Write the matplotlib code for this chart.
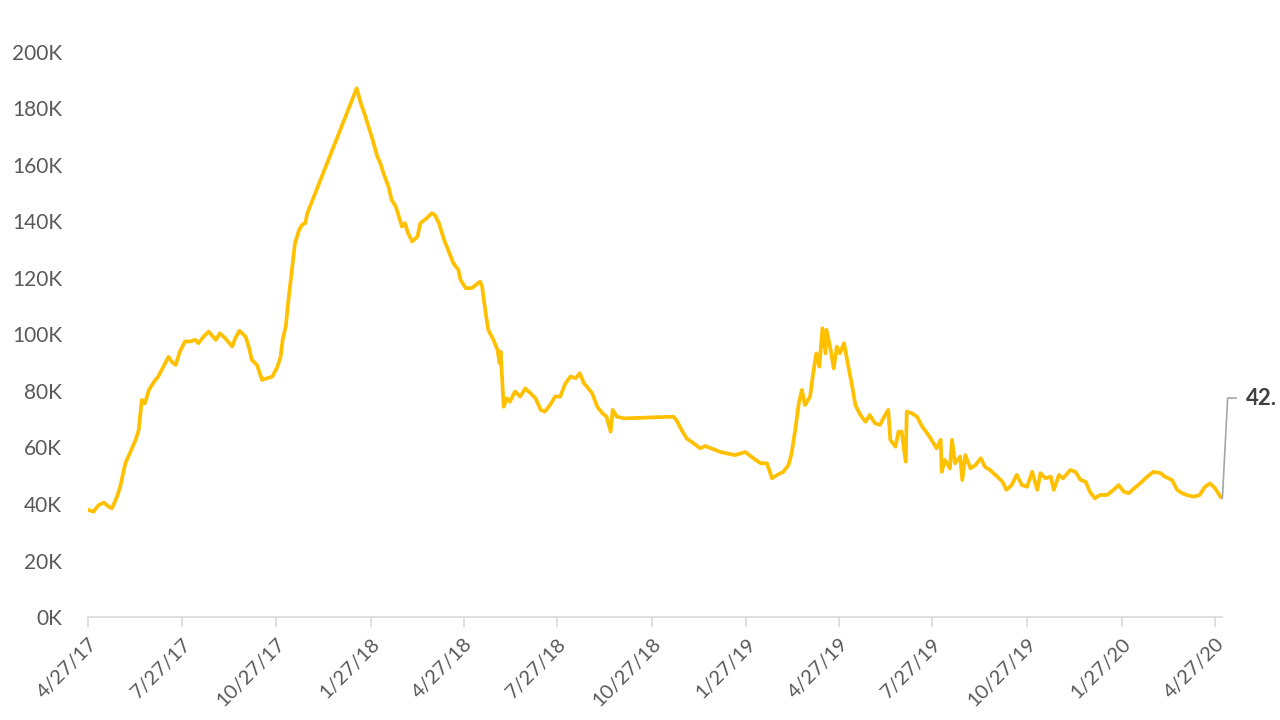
import numpy as np
import pandas as pd
import matplotlib
matplotlib.use("Agg")
import matplotlib.pyplot as plt
from matplotlib.ticker import FuncFormatter

plt.rcParams['font.family'] = ['Lato', 'DejaVu Sans']

# data (days after 4/27/17, value in K)
start = pd.Timestamp('2017-04-27')
days = [0, 5, 10, 15, 20, 23, 28, 31, 36, 41, 46, 49, 52, 55, 59, 64, 68, 73, 78, 81,
        85, 89, 94, 99, 104, 107, 112, 117, 124, 128, 133, 140, 143, 147, 153, 156, 159, 164, 169, 174,
        179, 184, 187, 189, 192, 193, 195, 198, 201, 205, 208, 211, 213, 261, 265, 269, 273, 277, 281, 284,
        287, 292, 295, 299, 302, 305, 308, 311, 315, 320, 323, 329, 334, 337, 341, 346, 350, 355, 360, 362,
        367, 373, 381, 383, 386, 389, 394, 398, 400, 401, 404, 407, 410, 415, 420, 425, 430, 435, 440, 444,
        449, 454, 459, 464, 469, 474, 478, 482, 485, 490, 495, 500, 504, 508, 510, 514, 521, 569, 572, 577,
        582, 589, 595, 600, 615, 629, 639, 649, 654, 660, 665, 670, 676, 681, 684, 688, 691, 694, 697, 702,
        705, 708, 711, 714, 717, 718, 722, 725, 728, 731, 735, 738, 743, 746, 751, 756, 760, 765, 770, 775,
        778, 780, 785, 788, 791, 795, 796, 801, 806, 811, 816, 820, 825, 829, 830, 833, 838, 840, 843, 848,
        850, 853, 858, 863, 868, 872, 877, 884, 889, 893, 898, 903, 908, 913, 918, 923, 926, 931, 936, 939,
        944, 948, 955, 960, 965, 970, 974, 979, 984, 991, 997, 1002, 1007, 1012, 1017, 1023, 1030, 1036, 1043, 1047,
        1054, 1059, 1064, 1068, 1075, 1081, 1086, 1091, 1096, 1101, 1103]
values = [37.9, 37.3, 39.6, 40.5, 39.0, 38.5, 42.6, 46.1, 54.4, 58.5, 62.7, 66.2, 76.8, 75.6, 80.4, 83.3, 85.1, 88.6, 92.1, 90.4,
          89.2, 93.9, 97.5, 97.5, 98.1, 96.9, 99.2, 101.0, 98.1, 100.4, 98.7, 95.7, 98.7, 101.3, 99.2, 95.7, 91.0, 89.2, 83.9, 84.5,
          85.1, 88.6, 92.1, 98.1, 102.8, 106.3, 113.4, 122.8, 132.3, 137.0, 138.8, 139.4, 142.9, 187.1, 181.8, 177.7, 173.0, 168.3, 163.0, 160.6,
          157.1, 152.3, 147.6, 145.3, 141.7, 138.2, 139.4, 135.8, 132.9, 134.6, 139.4, 141.1, 142.9, 142.3, 139.4, 133.5, 129.9, 125.2, 122.8, 119.3,
          116.4, 116.4, 118.7, 116.9, 108.7, 101.6, 98.1, 94.5, 89.8, 93.9, 74.4, 77.4, 76.2, 79.8, 78.0, 80.9, 79.2, 77.4, 73.3, 72.7,
          75.0, 78.0, 78.0, 82.7, 85.1, 84.5, 86.3, 82.7, 81.5, 79.2, 74.4, 72.1, 70.9, 65.6, 73.3, 70.9, 70.3, 70.9, 69.7, 66.2,
          63.2, 61.4, 59.7, 60.5, 58.4, 57.3, 58.4, 55.6, 54.4, 54.4, 49.1, 50.3, 51.4, 53.8, 57.9, 67.4, 75.6, 80.4, 75.0, 78.0,
          86.3, 93.3, 88.6, 102.2, 93.3, 101.6, 94.5, 88.0, 95.7, 93.3, 96.9, 91.0, 81.5, 75.0, 71.5, 69.1, 71.5, 68.6, 68.0, 71.5,
          73.3, 62.7, 60.3, 65.6, 65.6, 55.0, 72.7, 72.1, 70.9, 67.4, 65.0, 62.7, 59.7, 62.7, 51.4, 55.6, 52.6, 62.7, 54.4, 56.8,
          48.5, 57.3, 52.6, 53.8, 56.2, 53.2, 52.0, 49.7, 47.9, 45.0, 46.7, 50.3, 46.7, 46.1, 51.4, 45.0, 50.9, 49.1, 49.7, 45.0,
          50.3, 49.1, 52.0, 51.4, 48.5, 47.9, 44.4, 42.0, 43.2, 43.2, 45.0, 46.7, 44.4, 43.8, 45.5, 47.3, 49.7, 51.4, 50.9, 49.7,
          48.5, 45.0, 43.8, 43.2, 42.6, 43.2, 46.1, 47.3, 45.5, 42.6, 42.1]
tick_labels = ["4/27/17", "7/27/17", "10/27/17", "1/27/18", "4/27/18", "7/27/18", "10/27/18",
               "1/27/19", "4/27/19", "7/27/19", "10/27/19", "1/27/20", "4/27/20"]
end_label = "42."

dates = start + pd.to_timedelta(days, unit='D')
tick_dates = pd.to_datetime(tick_labels, format='%m/%d/%y')

fig = plt.figure(figsize=(12.8, 7.2), dpi=100)
ax = fig.add_axes([0.069, 0.143, 0.886, 0.785])

ax.plot(dates, values, color='#FFC000', lw=2.7, solid_joinstyle='round')

ax.set_ylim(0, 200)
ax.set_yticks(np.arange(0, 201, 20))
ax.yaxis.set_major_formatter(FuncFormatter(lambda v, p: f"{int(v)}K"))
ax.set_xlim(dates[0], dates[-1])
ax.set_xticks(tick_dates)
ax.set_xticklabels(tick_labels, rotation=45, ha='right', rotation_mode='anchor')

for s in ['top', 'right', 'left']:
    ax.spines[s].set_visible(False)
ax.spines['bottom'].set_color('#d9d9d9')
ax.spines['bottom'].set_linewidth(1.2)
ax.tick_params(axis='y', length=0, pad=19, labelsize=15, labelcolor='#595959')
ax.tick_params(axis='x', length=7, width=1.2, color='#d9d9d9', pad=6,
               labelsize=14.5, labelcolor='#595959')

ax.annotate(end_label, xy=(dates[-1], values[-1]), xytext=(17, 72),
            textcoords='offset points', fontsize=16, fontweight='bold',
            color='#404040', va='center', ha='left', annotation_clip=False,
            arrowprops=dict(arrowstyle='-', color='#a6a6a6', lw=1.2,
                            shrinkA=5, shrinkB=0, relpos=(0, 0.5),
                            connectionstyle='angle,angleA=0,angleB=87,rad=0'))

fig.savefig('out.png', dpi=100)
